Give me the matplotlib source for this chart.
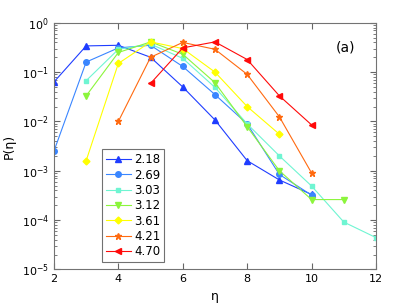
import matplotlib
matplotlib.use('Agg')
import matplotlib.pyplot as plt
from matplotlib.ticker import LogLocator, NullFormatter

# data (eta, P(eta)) for each curve
labels = ['2.18', '2.69', '3.03', '3.12', '3.61', '4.21', '4.70']

eta_218 = [2, 3, 4, 5, 6, 7, 8, 9, 10]
p_218 = [0.063, 0.34, 0.35, 0.20, 0.050, 0.0107, 0.0016, 6.5e-4, 3.3e-4]

eta_269 = [2, 3, 4, 5, 6, 7, 8, 9, 10]
p_269 = [0.0025, 0.16, 0.31, 0.35, 0.13, 0.035, 0.0089, 8.4e-4, 3.2e-4]

eta_303 = [3, 4, 5, 6, 7, 8, 9, 10, 11, 12]
p_303 = [0.067, 0.29, 0.37, 0.19, 0.049, 0.0089, 0.0020, 4.9e-4, 9.1e-5, 4.4e-5]

eta_312 = [3, 4, 5, 6, 7, 8, 9, 10, 11]
p_312 = [0.033, 0.25, 0.41, 0.23, 0.061, 0.0078, 1.0e-3, 2.6e-4, 2.6e-4]

eta_361 = [3, 4, 5, 6, 7, 8, 9]
p_361 = [0.0016, 0.15, 0.41, 0.30, 0.10, 0.020, 0.0055]

eta_421 = [4, 5, 6, 7, 8, 9, 10]
p_421 = [0.010, 0.20, 0.40, 0.29, 0.090, 0.0124, 9.0e-4]

eta_470 = [5, 6, 7, 8, 9, 10]
p_470 = [0.059, 0.31, 0.41, 0.18, 0.033, 0.0085]

series = [(eta_218, p_218), (eta_269, p_269), (eta_303, p_303), (eta_312, p_312),
          (eta_361, p_361), (eta_421, p_421), (eta_470, p_470)]
colors = ['#1f3dff', '#3a86ff', '#6ff5d2', '#8cf53c', '#ffff00', '#ff6a10', '#ff0a0a']
markers = ['^', 'o', 's', 'v', 'D', '*', '<']
msizes = [4, 4, 3.5, 4, 3.5, 5, 4]

plt.rcParams['font.family'] = ['DejaVu Sans']
fig = plt.figure(figsize=(4.15, 3.04), dpi=100)
ax = fig.add_axes([0.130, 0.114, 0.776, 0.811])

for (x, y), c, m, ms, lab in zip(series, colors, markers, msizes, labels):
    ax.plot(x, y, color=c, marker=m, markersize=ms, linewidth=0.8,
            markeredgecolor=c, label=lab)

ax.set_yscale('log')
ax.set_xlim(2, 12)
ax.set_ylim(1e-5, 1)
ax.set_xticks([2, 4, 6, 8, 10, 12])
ax.yaxis.set_major_locator(LogLocator(base=10, numticks=10))
ax.yaxis.set_minor_locator(LogLocator(base=10, subs=range(2, 10), numticks=10))
ax.yaxis.set_minor_formatter(NullFormatter())
ax.tick_params(which='both', direction='in', top=True, right=True,
               labelsize=8, color='0.4')
ax.tick_params(which='major', length=4)
ax.tick_params(which='minor', length=2)
for s in ax.spines.values():
    s.set_color('0.45')

ax.set_xlabel('η', fontsize=9)
ax.set_ylabel('P(η)', fontsize=9)
ax.text(11.05, 0.31, '(a)', fontsize=10, ha='center', va='center')

leg = ax.legend(loc='lower left', bbox_to_anchor=(0.148, 0.028), fontsize=8.5,
                frameon=True, fancybox=False, handlelength=2.1,
                borderpad=0.35, labelspacing=0.2, handletextpad=0.3,
                borderaxespad=0)
leg.get_frame().set_edgecolor('0.3')
leg.get_frame().set_linewidth(0.8)

fig.savefig('out.png', dpi=100)
